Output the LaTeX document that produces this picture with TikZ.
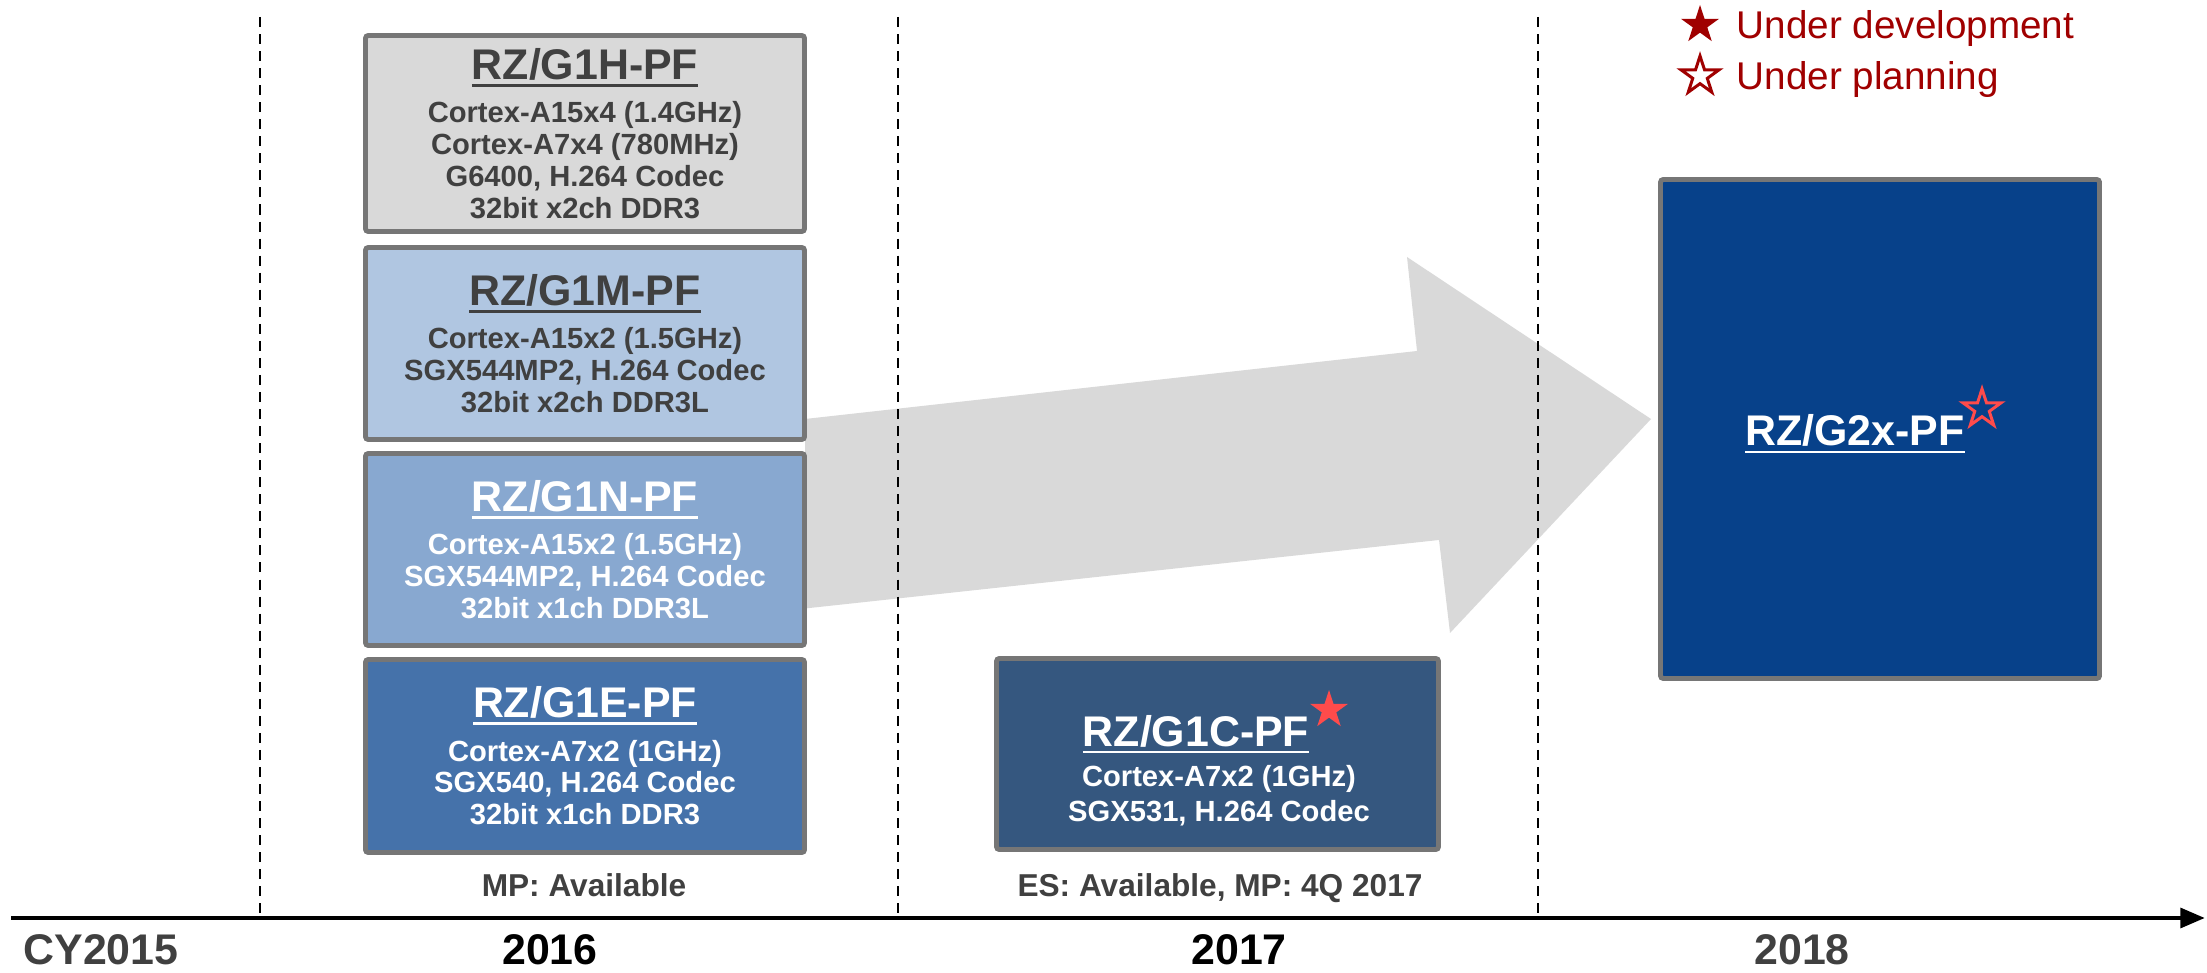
\documentclass[tikz,border=0pt]{standalone}
\usepackage{fontspec}
\setmainfont{Liberation Sans}
\usetikzlibrary{shapes.geometric,arrows.meta}

\definecolor{bord}{HTML}{767676}
\definecolor{dtext}{HTML}{404040}
\definecolor{cH}{HTML}{D9D9D9}
\definecolor{cM}{HTML}{B0C6E1}
\definecolor{cN}{HTML}{88A8D0}
\definecolor{cE}{HTML}{4572AA}
\definecolor{cC}{HTML}{35577F}
\definecolor{cX}{HTML}{07418A}
\definecolor{arrowgray}{HTML}{D9D9D9}
\definecolor{starred}{HTML}{FF4B4B}
\definecolor{legred}{HTML}{A00000}

\newcommand{\myul}[1]{\setbox0\hbox{#1}\rlap{\rule[-2.1pt]{\wd0}{0.8pt}}\box0}
\newcommand{\ttl}[1]{{\fontsize{12.2pt}{12.2pt}\selectfont\myul{#1}}}

\tikzset{
  chip/.style={draw=bord, line width=1.4pt, rounded corners=0.8pt, align=center,
    font=\bfseries\fontsize{8.3pt}{9.1pt}\selectfont, inner sep=0pt},
  dashline/.style={line width=0.8pt, dash pattern=on 2.85pt off 2pt},
  timeline/.style={line width=1.4pt, -{Triangle[length=7pt,width=5.5pt]}},
  year/.style={anchor=base, font=\bfseries\fontsize{12.2pt}{14pt}\selectfont},
  status/.style={anchor=base, text=dtext, font=\bfseries\fontsize{9pt}{11pt}\selectfont},
  legtext/.style={anchor=base west, text=legred, font=\fontsize{11pt}{13pt}\selectfont, inner sep=0pt},
  fivestar/.style={star, star points=5, star point ratio=2.618, minimum size=4mm, inner sep=0pt},
}

\begin{document}
\begin{tikzpicture}[x=0.1mm, y=-0.1mm]
\useasboundingbox (0,0) rectangle (2207,973);

% big gray arrow (background)
\fill[arrowgray] (805,419) -- (1417,351) -- (1407,257) -- (1651,419) -- (1450,633)
  -- (1439,540) -- (805,608.5) -- cycle;

% dashed year separators
\coordinate (d1t) at (260,17);  \coordinate (d1b) at (260,918);
\coordinate (d2t) at (898,17);  \coordinate (d2b) at (898,918);
\coordinate (d3t) at (1538,17); \coordinate (d3b) at (1538,918);
\draw[dashline] (d1t) -- (d1b);
\draw[dashline] (d2t) -- (d2b);
\draw[dashline] (d3t) -- (d3b);

% timeline
\coordinate (tl0) at (11,918);
\coordinate (tl1) at (2205,918);
\draw[timeline] (tl0) -- (tl1);

% 2016 boxes
\node[chip, fill=cH, text=dtext, minimum width=43.9mm, minimum height=19.6mm] (g1h) at (585,133.5)
  {\ttl{RZ/G1H-PF}\\[3.2pt]Cortex-A15x4 (1.4GHz)\\Cortex-A7x4 (780MHz)\\G6400, H.264 Codec\\32bit x2ch DDR3};
\node[chip, fill=cM, text=dtext, minimum width=43.9mm, minimum height=19.2mm] (g1m) at (585,343.5)
  {\ttl{RZ/G1M-PF}\\[3.2pt]Cortex-A15x2 (1.5GHz)\\SGX544MP2, H.264 Codec\\32bit x2ch DDR3L};
\node[chip, fill=cN, text=white, minimum width=43.9mm, minimum height=19.2mm] (g1n) at (585,549.5)
  {\ttl{RZ/G1N-PF}\\[3.2pt]Cortex-A15x2 (1.5GHz)\\SGX544MP2, H.264 Codec\\32bit x1ch DDR3L};
\node[chip, fill=cE, text=white, minimum width=43.9mm, minimum height=19.3mm] (g1e) at (585,756)
  {\ttl{RZ/G1E-PF}\\[3.2pt]Cortex-A7x2 (1GHz)\\SGX540, H.264 Codec\\32bit x1ch DDR3};

% 2017 box
\node[chip, fill=cC, minimum width=44.2mm, minimum height=19.1mm] (g1c) at (1217.5,754) {};
\node[anchor=base, text=white, font=\bfseries, inner sep=0pt] (g1ct) at (1196,746) {\ttl{RZ/G1C-PF}};
\node[fivestar, fill=starred] (g1cs) at (1329,710) {};
\node[align=center, text=white, font=\bfseries\fontsize{8.3pt}{10pt}\selectfont, inner sep=0pt] (g1cb) at (1219,796)
  {Cortex-A7x2 (1GHz)\\SGX531, H.264 Codec};

% 2018 box
\node[chip, fill=cX, minimum width=43.9mm, minimum height=49.9mm] (g2x) at (1880,429) {};
\node[anchor=base, text=white, font=\bfseries, inner sep=0pt] (g2xt) at (1855,446) {\ttl{RZ/G2x-PF}};
\node[fivestar, draw=starred, line width=0.85pt] (g2xs) at (1982,409) {};

% status labels
\node[status] (st1) at (584,896) {MP: Available};
\node[status] (st2) at (1220,896) {ES: Available, MP: 4Q 2017};

% year labels
\node[year, text=dtext, inner sep=0pt] (y15) at (101,964) {CY2015};
\node[year, text=black, inner sep=0pt] (y16) at (550,964) {2016};
\node[year, text=black, inner sep=0pt] (y17) at (1239,964) {2017};
\node[year, text=dtext, inner sep=0pt] (y18) at (1802,964) {2018};

% legend
\node[fivestar, fill=legred] (ls1) at (1700,25) {};
\node[fivestar, draw=legred, fill=white, line width=0.85pt] (ls2) at (1700,76) {};
\node[legtext] (lt1) at (1736,39) {Under development};
\node[legtext] (lt2) at (1736,90) {Under planning};
\end{tikzpicture}
\end{document}
